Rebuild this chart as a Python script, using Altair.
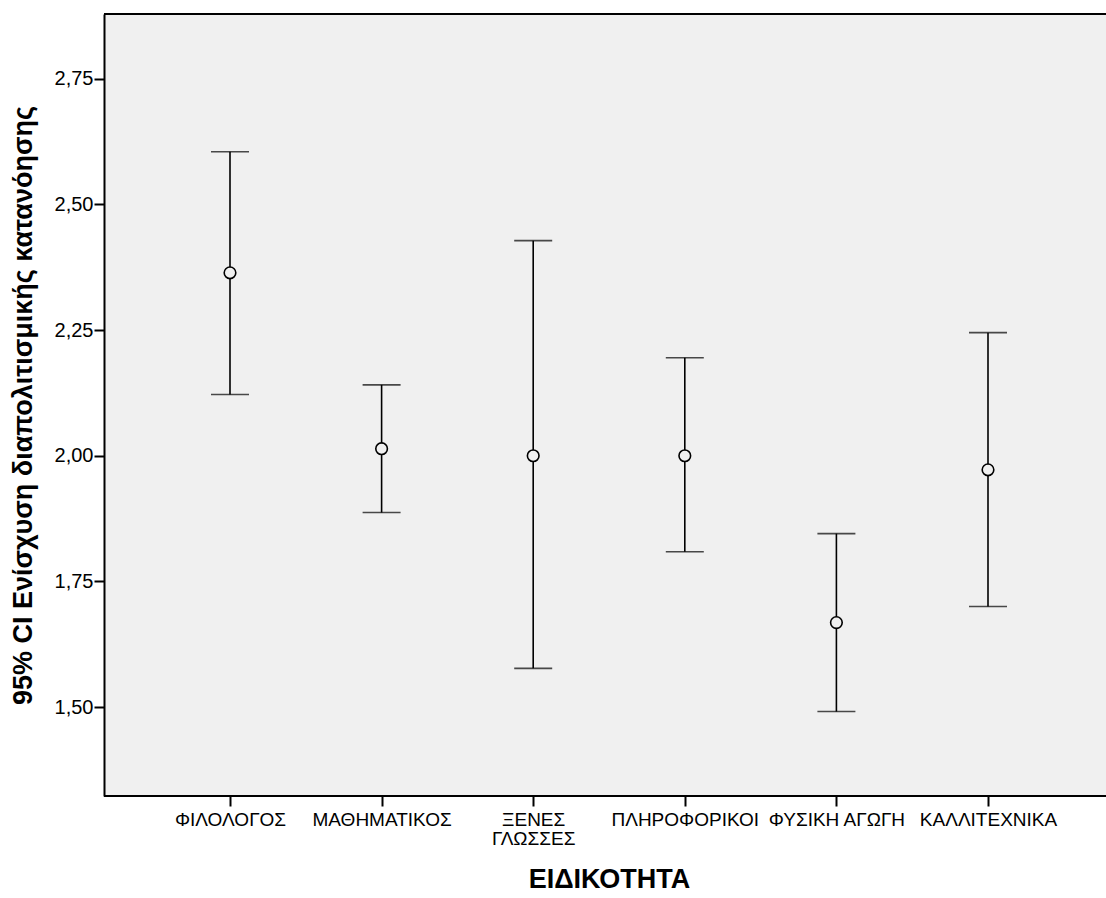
import altair as alt
import pandas as pd

# Speciality groups and their 95% confidence intervals
groups = ["ΦΙΛΟΛΟΓΟΣ", "ΜΑΘΗΜΑΤΙΚΟΣ", "ΞΕΝΕΣ ΓΛΩΣΣΕΣ", "ΠΛΗΡΟΦΟΡΙΚΟΙ", "ΦΥΣΙΚΗ ΑΓΩΓΗ", "ΚΑΛΛΙΤΕΧΝΙΚΑ"]
means = [2.364, 2.014, 2.000, 2.000, 1.668, 1.972]
lower = [2.122, 1.887, 1.577, 1.809, 1.491, 1.700]
upper = [2.605, 2.141, 2.428, 2.195, 1.845, 2.245]
y_ticks = [1.50, 1.75, 2.00, 2.25, 2.50, 2.75]

df = pd.DataFrame({"group": groups, "mean": means, "lower": lower, "upper": upper})

W, H = 1002, 782
FONT = "Liberation Sans"

x_enc = alt.X(
    "group:N",
    sort=groups,
    scale=alt.Scale(type="point", range=[126, 884], padding=0),
    axis=alt.Axis(
        title="ΕΙΔΙΚΟΤΗΤΑ",
        titleFont=FONT, titleFontSize=27, titleFontWeight="bold", titleColor="black",
        titlePadding=18,
        labelFont=FONT, labelFontSize=19, labelColor="black", labelAngle=0,
        labelPadding=4, labelLineHeight=19,
        labelExpr="datum.label == 'ΞΕΝΕΣ ΓΛΩΣΣΕΣ' ? ['ΞΕΝΕΣ', 'ΓΛΩΣΣΕΣ'] : datum.label",
        domain=False,
        tickColor="black", tickWidth=2, tickSize=10,
        grid=False,
    ),
)

y_scale = alt.Scale(domain=[1.323, 2.879], nice=False, zero=False)
y_axis = alt.Axis(
    title="95% CI Ενίσχυση διαπολιτισμικής κατανόησης",
    titleFont=FONT, titleFontSize=27, titleFontWeight="bold", titleColor="black",
    titlePadding=17,
    values=y_ticks,
    labelExpr="replace(format(datum.value, '.2f'), '.', ',')",
    labelFont=FONT, labelFontSize=20, labelColor="black", labelPadding=1,
    domainColor="black", domainWidth=2,
    tickColor="black", tickWidth=2, tickSize=10,
    grid=False,
)

base = alt.Chart(df)

bars = base.mark_rule(color="black", strokeWidth=1.6).encode(
    x=x_enc,
    y=alt.Y("lower:Q", scale=y_scale, axis=y_axis),
    y2="upper:Q",
)

caps_hi = base.mark_tick(color="black", thickness=1.6, size=38, orient="horizontal").encode(
    x=alt.X("group:N", sort=groups), y="upper:Q"
)
caps_lo = base.mark_tick(color="black", thickness=1.6, size=38, orient="horizontal").encode(
    x=alt.X("group:N", sort=groups), y="lower:Q"
)

points = base.mark_point(shape="circle", size=135, filled=True, fill="#f0f0f0",
                         stroke="black", strokeWidth=1.6, opacity=1).encode(
    x=alt.X("group:N", sort=groups), y="mean:Q"
)

# Top and bottom edges of the frame
edge = pd.DataFrame({"a": [0]})
frame_top = alt.Chart(edge).mark_rule(color="black", strokeWidth=2).encode(
    x=alt.value(0), x2=alt.value(W), y=alt.value(0)
)
frame_bottom = alt.Chart(edge).mark_rule(color="black", strokeWidth=2).encode(
    x=alt.value(0), x2=alt.value(W), y=alt.value(H)
)

chart = (
    alt.layer(bars, caps_hi, caps_lo, points, frame_top, frame_bottom)
    .properties(
        width=W, height=H,
        autosize=alt.AutoSizeParams(type="none"),
        padding={"left": 104, "top": 14, "right": 0, "bottom": 102},
        background="white",
    )
    .configure_view(fill="#f0f0f0", stroke=None)
)

chart.save("out.html", embed_options={"renderer": "svg", "actions": False})
